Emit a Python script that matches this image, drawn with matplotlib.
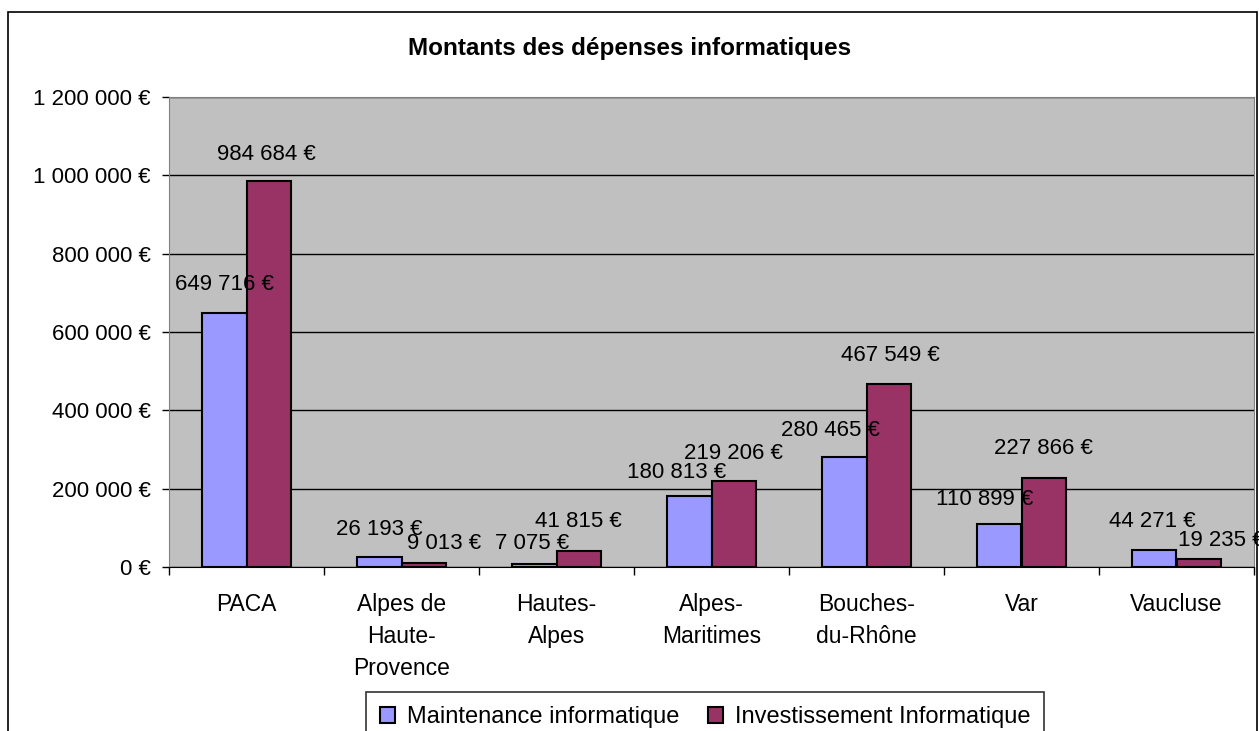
import matplotlib.pyplot as plt
import matplotlib.patches as patches
from matplotlib.ticker import FuncFormatter, FixedLocator
import numpy as np

plt.rcParams['font.family'] = ['Liberation Sans', 'DejaVu Sans']

# Data
categories = ['PACA', 'Alpes de\nHaute-\nProvence', 'Hautes-\nAlpes', 'Alpes-\nMaritimes',
              'Bouches-\ndu-Rhône', 'Var', 'Vaucluse']
maintenance = [649716, 26193, 7075, 180813, 280465, 110899, 44271]
investissement = [984684, 9013, 41815, 219206, 467549, 227866, 19235]
series_names = ['Maintenance informatique', 'Investissement Informatique']

# label nudges in pixels (dx, dy), as Excel placed them
nudge_maint = [(0, 0), (0, -1), (-2, -7), (-13, -4), (-14, -1), (-15, -4), (-2, 0)]
nudge_inv = [(-2, -1), (20, -8), (0, 1), (0, 0), (2, 0), (0, 1), (23, -9)]


def euro(v, pos=None):
    s = f'{int(round(v)):,}'.replace(',', ' ')
    return s + ' €'


fig = plt.figure(figsize=(12.59, 7.31), dpi=100)
fig.patch.set_facecolor('white')
# chart border (bottom is cut off in the reference)
fig.patches.append(patches.Rectangle((8 / 1259, -0.05), 1249 / 1259, 1 - 12 / 731 + 0.05,
                                     transform=fig.transFigure, fill=False,
                                     edgecolor='black', linewidth=1.2))

ax = fig.add_axes([169 / 1259, 1 - 567 / 731, (1254 - 169) / 1259, (567 - 97) / 731])
ax.set_facecolor('#C0C0C0')

x = np.arange(len(categories))
w = 1 / 3.5
b1 = ax.bar(x - w / 2, maintenance, w, color='#9999FF', edgecolor='black', linewidth=1.5,
            label=series_names[0], zorder=3)
b2 = ax.bar(x + w / 2, investissement, w, color='#993366', edgecolor='black', linewidth=1.5,
            label=series_names[1], zorder=3)

px = 0.72  # points per pixel at dpi 100
for bars, vals, nudges in ((b1, maintenance, nudge_maint), (b2, investissement, nudge_inv)):
    for r, v, (dx, dy) in zip(bars, vals, nudges):
        ax.annotate(euro(v), (r.get_x() + r.get_width() / 2, v),
                    xytext=(dx * px, (28 + dy) * px),
                    textcoords='offset points', ha='center', va='center', fontsize=16,
                    zorder=4, annotation_clip=False)

ax.set_xlim(-0.5, len(categories) - 0.5)
ax.set_ylim(0, 1200000)
ax.set_yticks(np.arange(0, 1200001, 200000))
ax.yaxis.set_major_formatter(FuncFormatter(euro))
ax.yaxis.grid(True, color='black', linewidth=1)
ax.set_axisbelow(True)

ax.set_xticks(x)
ax.set_xticklabels(categories, fontsize=16.5, linespacing=1.5, va='top')
ax.tick_params(axis='x', which='major', length=0, pad=19)
ax.xaxis.set_minor_locator(FixedLocator(np.arange(-0.5, len(categories), 1)))
ax.tick_params(axis='x', which='minor', length=6, width=1, direction='out')
ax.tick_params(axis='y', length=5, width=1, direction='out', pad=8, labelsize=16)

for side in ('top', 'right', 'left'):
    ax.spines[side].set_color('#808080')
ax.spines['bottom'].set_color('black')

fig.text(0.5, 1 - 48 / 731, 'Montants des dépenses informatiques', ha='center', va='center',
         fontsize=17.5, fontweight='bold')

leg = fig.legend(handles=[b1, b2], loc='upper center', bbox_to_anchor=(705 / 1259, 1 - 692 / 731),
                 ncol=2, fontsize=17, frameon=True, fancybox=False, edgecolor='black',
                 handlelength=0.65, handleheight=0.65, handletextpad=0.5, columnspacing=1.2,
                 borderpad=0.6, borderaxespad=0)
leg.get_frame().set_linewidth(1.2)

fig.savefig('out.png', dpi=100)
